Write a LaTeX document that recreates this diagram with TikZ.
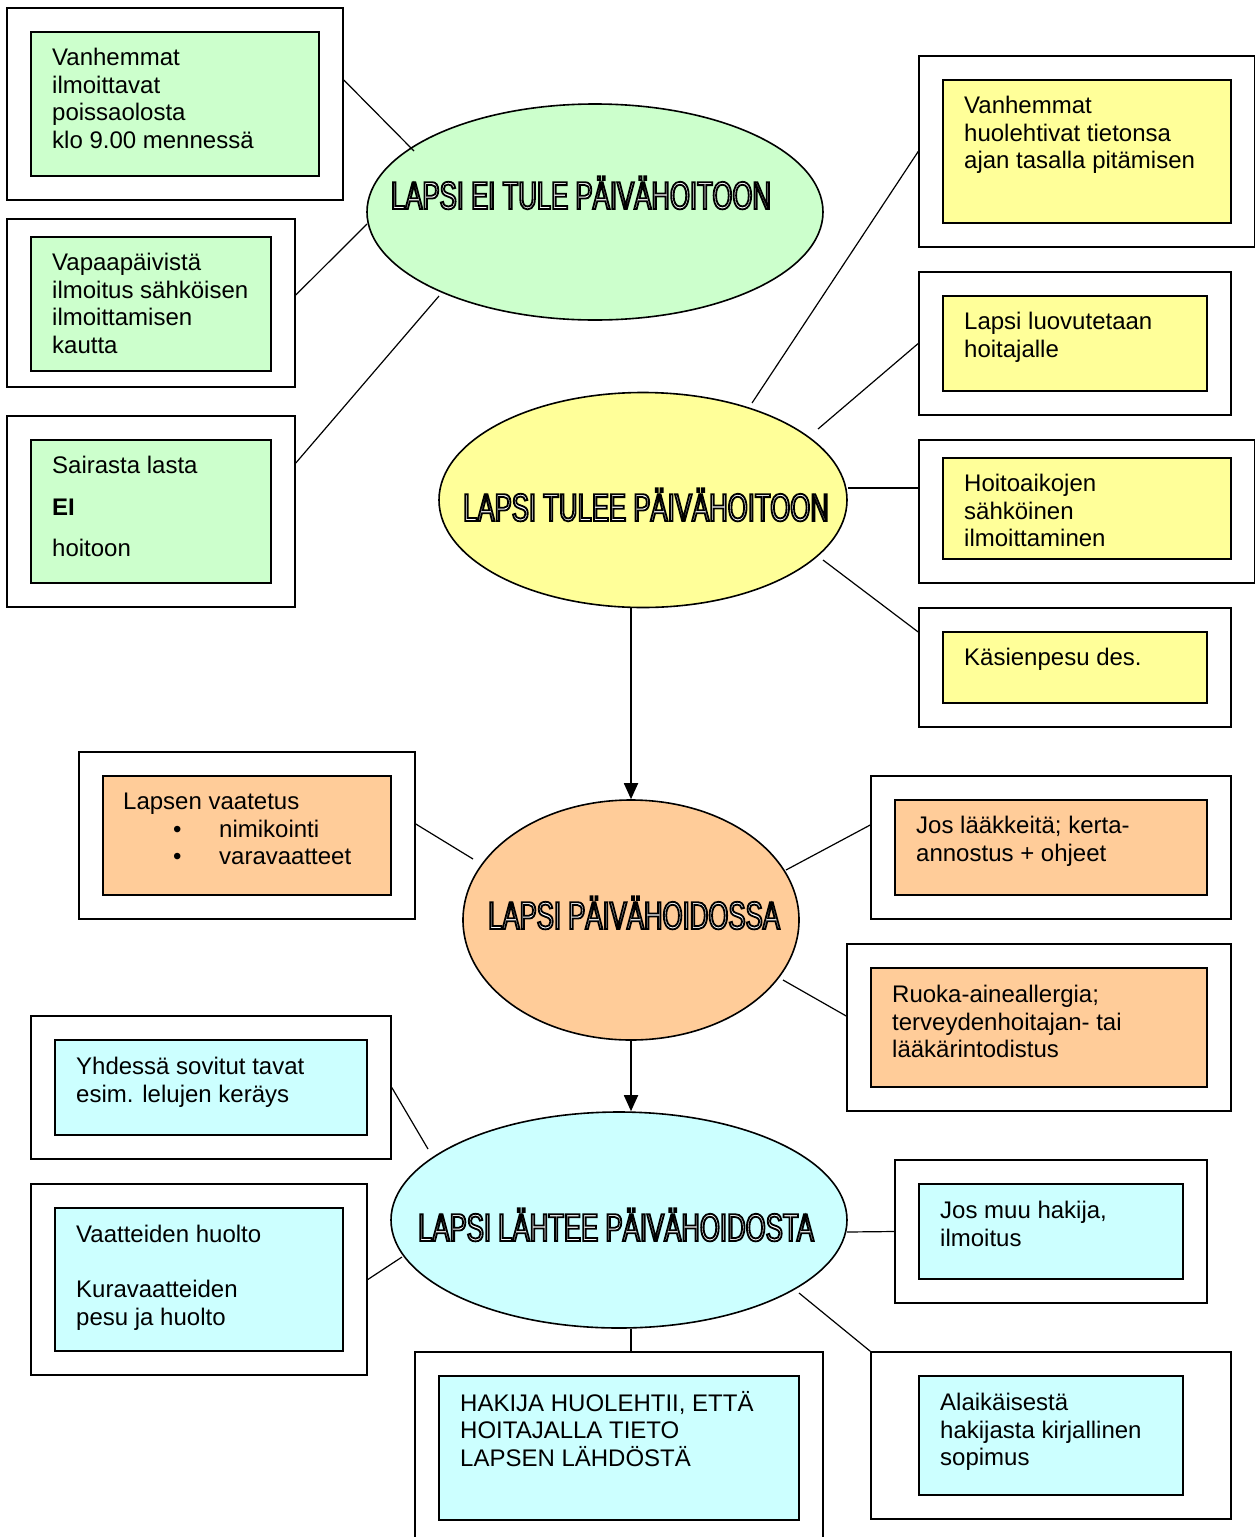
\documentclass[tikz,border=0pt]{standalone}
\usepackage{fontspec}
\setmainfont{Liberation Sans}
\newfontfamily\titlefamily[FakeStretch=0.66]{Liberation Sans}
\usetikzlibrary{shapes.geometric,arrows.meta}

\definecolor{gfill}{HTML}{CCFFCC}
\definecolor{yfill}{HTML}{FFFF99}
\definecolor{ofill}{HTML}{FFCC99}
\definecolor{cfill}{HTML}{CCFFFF}

% hollow lettering: white fill, black stroke
\newcommand\hollow[1]{\special{pdf:literal direct 2 Tr 1.8 w 0 G}#1\special{pdf:literal direct 0 Tr}}
\newcommand\bul[1]{\hspace*{50pt}\makebox[46pt][l]{\textbullet}#1}

\begin{document}
\begin{tikzpicture}[x=1pt,y=-1pt,
  frame/.style={draw, line width=1.6pt, rectangle, inner sep=0pt},
  card/.style={draw, line width=1.6pt, rectangle, inner sep=0pt},
  bubble/.style={ellipse, draw, line width=1.6pt, inner sep=0pt},
  title/.style={anchor=base, inner sep=0pt, text=white, font=\titlefamily\fontsize{39}{39}\selectfont},
  body/.style={anchor=north west, inner sep=0pt, align=left, font=\fontsize{24}{27.6}\selectfont},
  link/.style={line width=1.2pt},
  flow/.style={line width=1.8pt, -{Triangle[length=16pt,width=14pt]}}]

\fill[white] (0,0) rectangle (1255,1537);
\useasboundingbox (0,0) rectangle (1255,1537);

% ---------- ellipses ----------
\node[bubble, fill=gfill, minimum width=456pt, minimum height=216pt] (ge) at (595,212) {};
\node[bubble, fill=yfill, minimum width=408pt, minimum height=215pt] (ye) at (643,500) {};
\node[bubble, fill=ofill, minimum width=336pt, minimum height=240pt] (oe) at (631,920) {};
\node[bubble, fill=cfill, minimum width=456pt, minimum height=216pt] (ce) at (619,1220) {};

\node[title] (gt) at (581,209) {\hollow{LAPSI EI TULE PÄIVÄHOITOON}};
\node[title] (yt) at (646,521) {\hollow{LAPSI TULEE PÄIVÄHOITOON}};
\node[title] (ot) at (634,929) {\hollow{LAPSI PÄIVÄHOIDOSSA}};
\node[title] (ct) at (616,1241) {\hollow{LAPSI LÄHTEE PÄIVÄHOIDOSTA}};

% loose ends of the spokes, just off each ellipse
\coordinate (ge-a) at (414,151);
\coordinate (ge-b) at (367,224);
\coordinate (ge-c) at (439,296);
\coordinate (ye-a) at (752,403);
\coordinate (ye-b) at (818,429);
\coordinate (ye-c) at (848,488);
\coordinate (ye-d) at (823,560);
\coordinate (oe-a) at (473,859);
\coordinate (oe-b) at (786,870);
\coordinate (oe-c) at (783,980);
\coordinate (ce-a) at (428,1149);
\coordinate (ce-b) at (402,1257);
\coordinate (ce-c) at (847,1232);
\coordinate (ce-d) at (799,1293);

% ---------- green boxes ----------
\node[frame, minimum width=336pt, minimum height=192pt] (g1) at (175,104) {};
\node[card, fill=gfill, minimum width=288pt, minimum height=144pt] (g1i) at (175,104) {};
\node[body] (g1t) at (52,46) {\strut Vanhemmat\\ilmoittavat\\poissaolosta\\klo 9.00 mennessä};

\node[frame, minimum width=288pt, minimum height=168pt] (g2) at (151,303) {};
\node[card, fill=gfill, minimum width=240pt, minimum height=134pt] (g2i) at (151,304) {};
\node[body] (g2t) at (52,251) {\strut Vapaapäivistä\\ilmoitus sähköisen\\ilmoittamisen\\kautta};

\node[frame, minimum width=288pt, minimum height=191pt] (g3) at (151,511.5) {};
\node[card, fill=gfill, minimum width=240pt, minimum height=143pt] (g3i) at (151,511.5) {};
\node[body] (g3t) at (52,454) {\strut Sairasta lasta\\[14pt]\textbf{EI}\\[14pt]hoitoon};

% ---------- yellow boxes ----------
\node[frame, minimum width=336pt, minimum height=191pt] (y1) at (1087,151.5) {};
\node[card, fill=yfill, minimum width=288pt, minimum height=143pt] (y1i) at (1087,151.5) {};
\node[body] (y1t) at (964,94) {\strut Vanhemmat\\huolehtivat tietonsa\\ajan tasalla pitämisen};

\node[frame, minimum width=312pt, minimum height=143pt] (y2) at (1075,343.5) {};
\node[card, fill=yfill, minimum width=264pt, minimum height=95pt] (y2i) at (1075,343.5) {};
\node[body] (y2t) at (964,310) {\strut Lapsi luovutetaan\\hoitajalle};

\node[frame, minimum width=336pt, minimum height=143pt] (y3) at (1087,511.5) {};
\node[card, fill=yfill, minimum width=288pt, minimum height=101pt] (y3i) at (1087,508.5) {};
\node[body] (y3t) at (964,472) {\strut Hoitoaikojen\\sähköinen\\ilmoittaminen};

\node[frame, minimum width=312pt, minimum height=119pt] (y4) at (1075,667.5) {};
\node[card, fill=yfill, minimum width=264pt, minimum height=71pt] (y4i) at (1075,667.5) {};
\node[body] (y4t) at (964,646) {\strut Käsienpesu des.};

% ---------- orange boxes ----------
\node[frame, minimum width=336pt, minimum height=167pt] (o1) at (247,835.5) {};
\node[card, fill=ofill, minimum width=288pt, minimum height=119pt] (o1i) at (247,835.5) {};
\node[body] (o1t) at (123,790) {\strut Lapsen vaatetus\\\bul{nimikointi}\\\bul{varavaatteet}};

\node[frame, minimum width=360pt, minimum height=143pt] (o2) at (1051,847.5) {};
\node[card, fill=ofill, minimum width=312pt, minimum height=95pt] (o2i) at (1051,847.5) {};
\node[body] (o2t) at (916,814) {\strut Jos lääkkeitä; kerta-\\annostus + ohjeet};

\node[frame, minimum width=384pt, minimum height=167pt] (o3) at (1039,1027.5) {};
\node[card, fill=ofill, minimum width=336pt, minimum height=119pt] (o3i) at (1039,1027.5) {};
\node[body] (o3t) at (892,983) {\strut Ruoka-aineallergia;\\terveydenhoitajan- tai\\lääkärintodistus};

% ---------- cyan boxes ----------
\node[frame, minimum width=360pt, minimum height=143pt] (c1) at (211,1087.5) {};
\node[card, fill=cfill, minimum width=312pt, minimum height=95pt] (c1i) at (211,1087.5) {};
\node[body] (c1t) at (76,1055) {\strut Yhdessä sovitut tavat\\esim. lelujen keräys};

\node[frame, minimum width=336pt, minimum height=191pt] (c2) at (199,1279.5) {};
\node[card, fill=cfill, minimum width=288pt, minimum height=143pt] (c2i) at (199,1279.5) {};
\node[body] (c2t) at (76,1223) {\strut Vaatteiden huolto\\\mbox{}\\Kuravaatteiden\\pesu ja huolto};

\node[frame, minimum width=408pt, minimum height=216pt] (c3) at (619,1460) {};
\node[card, fill=cfill, minimum width=360pt, minimum height=144pt] (c3i) at (619,1448) {};
\node[body] (c3t) at (460,1391) {\strut HAKIJA HUOLEHTII, ETTÄ\\HOITAJALLA TIETO\\LAPSEN LÄHDÖSTÄ};

\node[frame, minimum width=312pt, minimum height=143pt] (c4) at (1051,1231.5) {};
\node[card, fill=cfill, minimum width=264pt, minimum height=95pt] (c4i) at (1051,1231.5) {};
\node[body] (c4t) at (940,1199) {\strut Jos muu hakija,\\ilmoitus};

\node[frame, minimum width=360pt, minimum height=167pt] (c5) at (1051,1435.5) {};
\node[card, fill=cfill, minimum width=264pt, minimum height=119pt] (c5i) at (1051,1435.5) {};
\node[body] (c5t) at (940,1391) {\strut Alaikäisestä\\hakijasta kirjallinen\\sopimus};

% ---------- connectors ----------
\draw[link] ([yshift=24pt]g1.east) -- (ge-a);
\draw[link] ([yshift=8pt]g2.east) -- (ge-b);
\draw[link] ([yshift=48.5pt]g3.east) -- (ge-c);

\draw[link] (ye-a) -- (y1.west);
\draw[link] (ye-b) -- (y2.west);
\draw[link] (ye-c) -- ([yshift=23.5pt]y3.west);
\draw[link] (ye-d) -- ([yshift=35.5pt]y4.west);

\draw[link] ([yshift=11.5pt]o1.east) -- (oe-a);
\draw[link] (oe-b) -- ([yshift=22.5pt]o2.west);
\draw[link] (oe-c) -- ([yshift=11.5pt]o3.west);

\draw[link] (c1.east) -- (ce-a);
\draw[link] (c2.east) -- (ce-b);
\draw[link] (ce-c) -- (c4.west);
\draw[link] (ce-d) -- (c5.north west);
\draw[link] ([xshift=12pt]ce.south) -- ([xshift=12pt]c3.north);

\draw[flow] (ye.south -| oe.north) -- (oe.north);
\draw[flow] (oe.south) -- (oe.south |- ce.north);
\end{tikzpicture}
\end{document}
